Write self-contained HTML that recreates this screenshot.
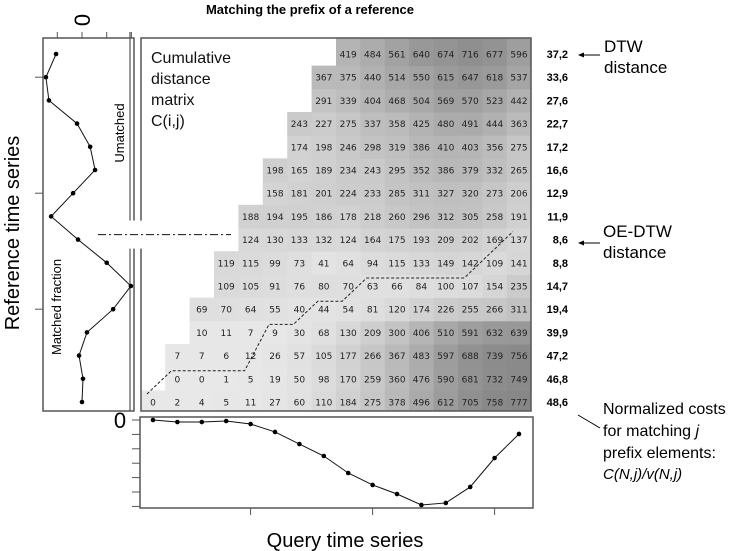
<!DOCTYPE html>
<html><head><meta charset="utf-8"><style>
html,body{margin:0;padding:0;background:#fff;width:734px;height:551px;overflow:hidden}
svg{display:block}
text{font-family:"Liberation Sans",sans-serif}
.num{font-family:"DejaVu Sans","Liberation Sans",sans-serif;font-size:9px;fill:#222}
</style></head><body>
<svg id="chart" width="734" height="551" viewBox="0 0 734 551" xmlns="http://www.w3.org/2000/svg">
<defs><clipPath id="mclip"><rect x="141" y="38" width="390" height="373"/></clipPath></defs>
<text x="310" y="14" text-anchor="middle" font-size="13" font-weight="bold">Matching the prefix of a reference</text>
<g id="matrix"></g>
<g id="left"></g>
<g id="bottom"></g>
<text font-size="16" fill="#111"><tspan x="151" y="63">Cumulative</tspan><tspan x="151" y="84">distance</tspan><tspan x="151" y="105">matrix</tspan><tspan x="151" y="126">C(i,j)</tspan></text>
<text transform="translate(19,233) rotate(-90)" text-anchor="middle" font-size="20">Reference time series</text>
<text x="345" y="547" text-anchor="middle" font-size="20">Query time series</text>
<text transform="translate(124,133) rotate(-90)" text-anchor="middle" font-size="13">Umatched</text>
<text transform="translate(61,307) rotate(-90)" text-anchor="middle" font-size="13">Matched fraction</text>
<g>
<line x1="600" y1="55" x2="580" y2="55" stroke="#000" stroke-width="1"/><path d="M578,55 l6,-2.5 v5 z" fill="#000"/>
<text x="604" y="52" font-size="17">DTW</text><text x="604" y="73" font-size="17">distance</text></g>
<g>
<line x1="600" y1="243" x2="580" y2="243" stroke="#000" stroke-width="1"/><path d="M578,243 l6,-2.5 v5 z" fill="#000"/>
<text x="603" y="237" font-size="17">OE-DTW</text><text x="603" y="258" font-size="17">distance</text></g>
<g>
<line x1="578" y1="415" x2="600" y2="428" stroke="#000" stroke-width="1"/>
<text x="603" y="414" font-size="16">Normalized costs</text>
<text x="603" y="436" font-size="16">for matching <tspan font-style="italic">j</tspan></text>
<text x="603" y="458" font-size="16">prefix elements:</text>
<text x="603" y="479" font-size="15" font-style="italic" font-family="Liberation Serif, serif">C(N,j)/v(N,j)</text></g>
</svg>
<script>
const matrixRows = [
[0,2,4,5,11,27,60,110,184,275,378,496,612,705,758,777],
[0,0,1,5,19,50,98,170,259,360,476,590,681,732,749],
[7,7,6,12,26,57,105,177,266,367,483,597,688,739,756],
[10,11,7,9,30,68,130,209,300,406,510,591,632,639],
[69,70,64,55,40,44,54,81,120,174,226,255,266,311],
[109,105,91,76,80,70,63,66,84,100,107,154,235],
[119,115,99,73,41,64,94,115,133,149,142,109,141],
[124,130,133,132,124,164,175,193,209,202,169,137],
[188,194,195,186,178,218,260,296,312,305,258,191],
[158,181,201,224,233,285,311,327,320,273,206],
[198,165,189,234,243,295,352,386,379,332,265],
[174,198,246,298,319,386,410,403,356,275],
[243,227,275,337,358,425,480,491,444,363],
[291,339,404,468,504,569,570,523,442],
[367,375,440,514,550,615,647,618,537],
[419,484,561,640,674,716,677,596]
];
const rowLabels = ["48,6","46,8","47,2","39,9","19,4","14,7","8,8","8,6","11,9","12,9","16,6","17,2","22,7","27,6","33,6","37,2"];
const referenceValues = [0,0.04,-0.12,0.2,1.26,1.98,1.0,-0.16,-1.25,-0.36,0.53,0.33,-0.2,-1.34,-1.46,-1.05];
const normalizedCosts = [0,-0.14,-0.14,-0.07,-0.28,-0.83,-1.67,-2.5,-3.68,-4.51,-5.14,-5.9,-5.76,-4.65,-2.64,-0.97];
const pathCols = [0,1,4,5,6,7,8,9,13,14,15];
const pathRows = [0,1,1,3,3,4,4,5,5,6,7];
const refTicks = [-1,0,1,2];
const costTicks = [0,-1,-2,-3,-4,-5,-6];
const colTicks = [4,9,14];
const refRowTicks = [4,9,14];

const NS="http://www.w3.org/2000/svg";
function mk(tag,attrs,parent){const e=document.createElementNS(NS,tag);for(const k in attrs)e.setAttribute(k,attrs[k]);parent.appendChild(e);return e;}
const NC=16, CW=24.4, X0=153, RH=23.2, Y0=402;
const cx=c=>X0+c*CW, ry=r=>Y0-r*RH;
const gm=document.getElementById('matrix');
const cells=mk('g',{'clip-path':'url(#mclip)'},gm);
const topRow=matrixRows.length-1;
matrixRows.forEach((row,r)=>{
  const start=NC-row.length;
  row.forEach((v,i)=>{
    const c=start+i, g=Math.round(232-v*0.125);
    const y1=ry(r)-RH/2, extra=(r===topRow)?12:0;
    const rc=mk('rect',{x:cx(c)-CW/2,y:y1-extra,width:CW+0.5,height:RH+0.5+extra,fill:`rgb(${g},${g},${g})`},cells);
    
    
    const t=mk('text',{x:cx(c),y:ry(r)+3.5,'text-anchor':'middle',class:'num'},gm);
    t.textContent=v;
    
    
  });
  const lb=mk('text',{x:568,y:ry(r)+4,'text-anchor':'end','font-size':11,'font-weight':'bold'},gm);
  lb.textContent=rowLabels[r];
  
  
});
const pp=pathCols.map((c,i)=>`${cx(c)-6},${ry(pathRows[i])-8}`).join(' ');
const wp=mk('polyline',{points:pp,fill:'none',stroke:'#222','stroke-width':1,'stroke-dasharray':'3,2'},gm);


const mb=mk('rect',{x:141,y:38,width:390,height:373,fill:'none',stroke:'#555','stroke-width':1.5},gm);



// left panel
const gl=document.getElementById('left');
const lx=v=>82+v*24.7;
const lbx=mk('rect',{x:43,y:38,width:91,height:373,fill:'none',stroke:'#555','stroke-width':1.5},gl);


mk('line',{x1:130,y1:32,x2:130,y2:411,stroke:'#555','stroke-width':1.2},gl);
refTicks.forEach(v=>{const t=mk('line',{x1:lx(v),y1:32,x2:lx(v),y2:38,stroke:'#555'},gl);
  
  });
refRowTicks.forEach(r=>{const t=mk('line',{x1:35,y1:ry(r),x2:43,y2:ry(r),stroke:'#555'},gl);
  
  });
const z=mk('text',{transform:`translate(${lx(0)+8},20) rotate(-90)`,'text-anchor':'middle','font-size':22},gl);z.textContent='0';


const rp=mk('polyline',{points:referenceValues.map((v,r)=>`${lx(v)},${ry(r)}`).join(' '),fill:'none',stroke:'#111','stroke-width':1},gl);


referenceValues.forEach((v,r)=>{const d=mk('circle',{cx:lx(v),cy:ry(r),r:2.3,fill:'#000'},gl);
  
  });

// gap + oe-dtw line (drawn over borders)
const svg=document.getElementById('chart');
const ly=ry(7)-5;
mk('rect',{x:95,y:ly-14,width:142,height:28,fill:'#fff'},svg);
const oe=mk('line',{x1:98,y1:ly,x2:231,y2:ly,stroke:'#111','stroke-width':1,'stroke-dasharray':'8,3,2,3'},svg);



// bottom panel
const gb=document.getElementById('bottom');
const by=v=>420-v*14.4;
const bb=mk('rect',{x:140,y:417,width:393,height:91,fill:'none',stroke:'#555','stroke-width':1.5},gb);


costTicks.forEach(v=>{const t=mk('line',{x1:132,y1:by(v),x2:140,y2:by(v),stroke:'#555'},gb);
  
  });
colTicks.forEach(c=>{const t=mk('line',{x1:cx(c),y1:508,x2:cx(c),y2:515,stroke:'#555'},gb);
  
  });
const z2=mk('text',{x:120,y:428,'text-anchor':'middle','font-size':22},gb);z2.textContent='0';


const bp=mk('polyline',{points:normalizedCosts.map((v,c)=>`${cx(c)},${by(v)}`).join(' '),fill:'none',stroke:'#111','stroke-width':1},gb);


normalizedCosts.forEach((v,c)=>{const d=mk('circle',{cx:cx(c),cy:by(v),r:2.3,fill:'#000'},gb);
  
  });
</script>
</body></html>
